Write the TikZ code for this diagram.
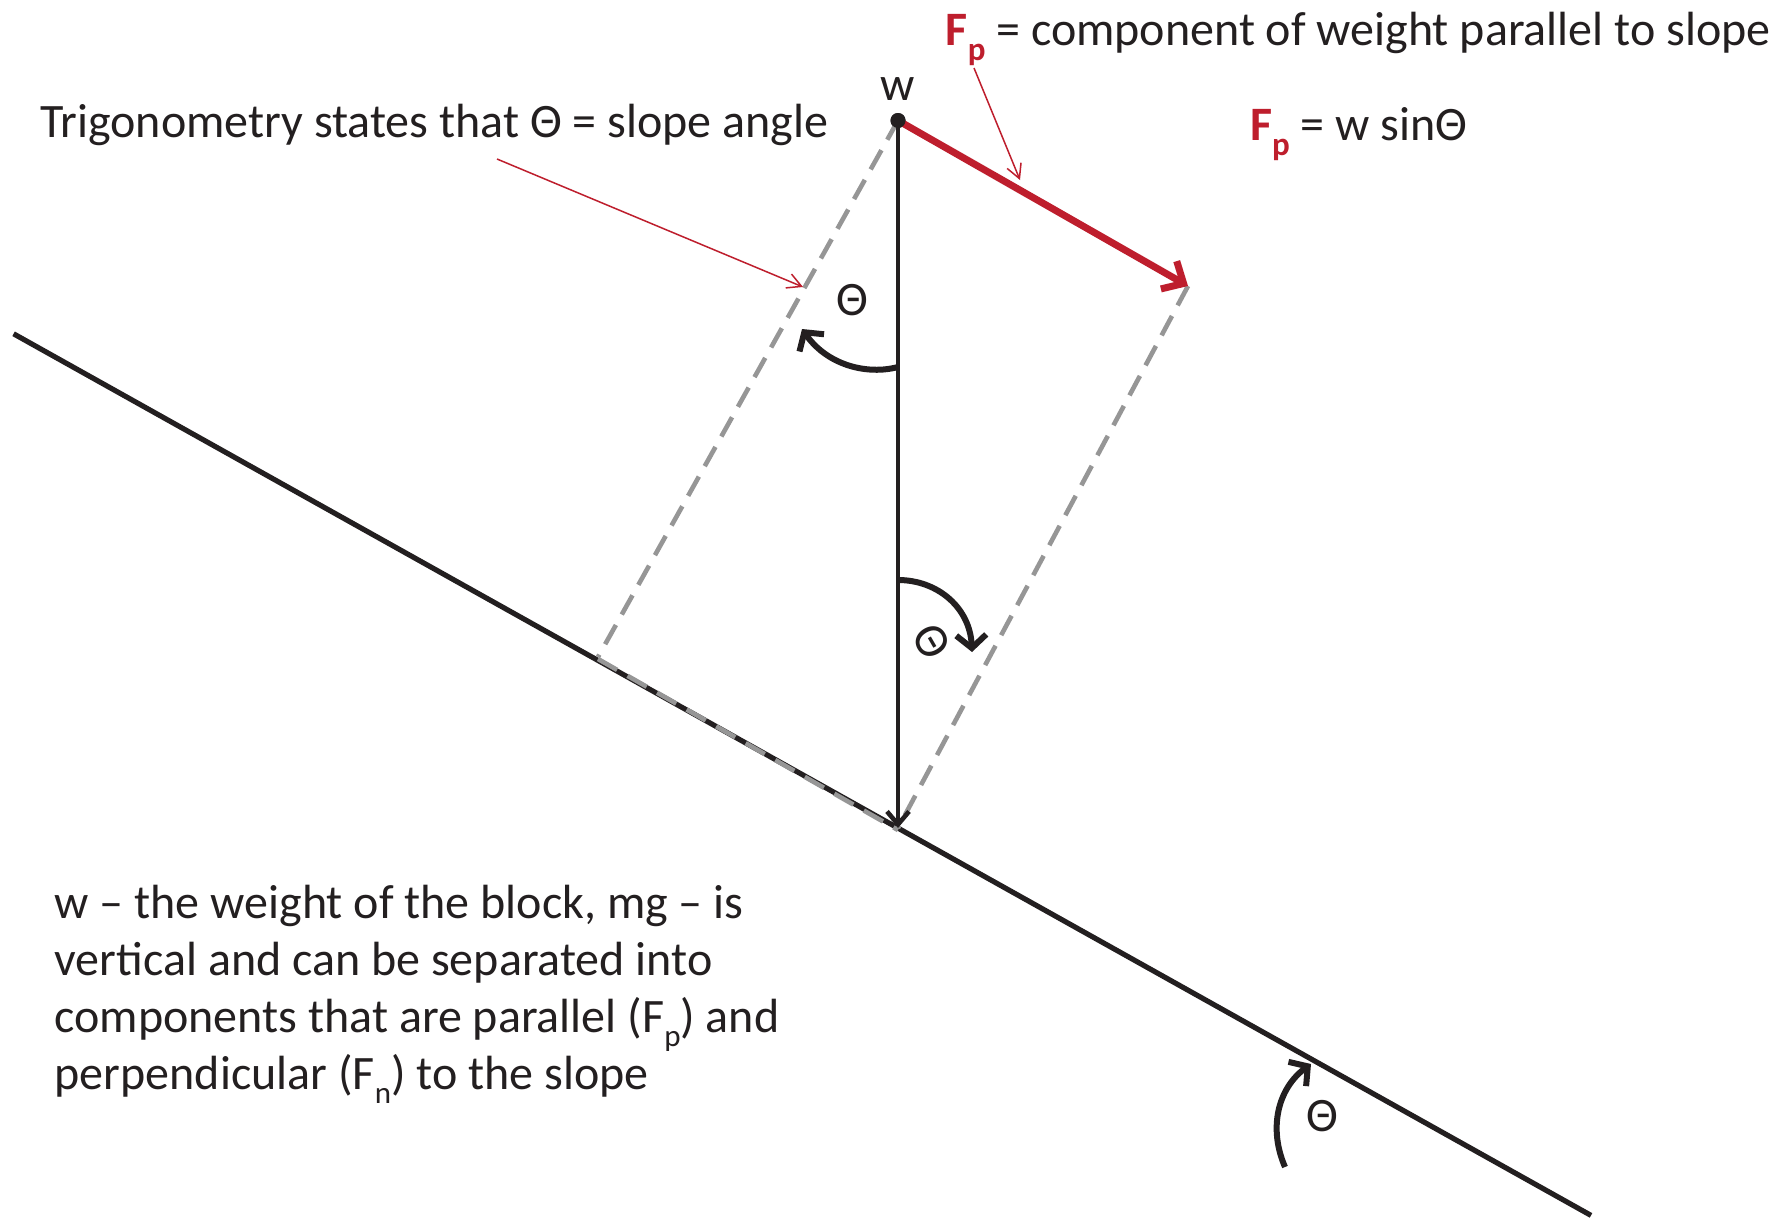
\documentclass[tikz,border=0pt]{standalone}
\usepackage{fontspec}
\setmainfont{Carlito}
\usetikzlibrary{arrows.meta}
\definecolor{fred}{RGB}{190,30,45}
\definecolor{sgray}{RGB}{150,150,150}
\definecolor{ink}{RGB}{35,31,32}
\newcommand{\Fbold}[1]{{\color{fred}\bfseries F\raisebox{-0.32em}{\fontsize{33}{33}\selectfont #1}}}
\newcommand{\Fsubn}[1]{F\raisebox{-0.3em}{\fontsize{31}{31}\selectfont #1}}
\tikzset{
  slopeline/.style={ink, line width=5.2pt},
  dashgray/.style={sgray, line width=4.6pt, dash pattern=on 22pt off 12pt},
  redvec/.style={fred, line width=7pt, -{Straight Barb[length=17pt,width=32pt]}},
  pointer/.style={fred, line width=1.5pt, -{Straight Barb[length=14pt,width=15pt]}},
  anglearc/.style={ink, line width=6pt, -{Straight Barb[length=13pt,width=30pt]}},
  wvec/.style={ink, line width=4.6pt, -{Straight Barb[length=13pt,width=22pt]}},
  lbl/.style={ink, inner sep=0pt},
}
\begin{document}
\begin{tikzpicture}[x=1pt,y=-1pt,font=\fontsize{48}{57}\selectfont]
\fill[white] (0,0) rectangle (1782,1218);
\useasboundingbox (0,0) rectangle (1782,1218);
% geometry
\coordinate (S1) at (13.6,333.8);
\coordinate (S2) at (1591,1215.4);
\coordinate (B) at (898,828);
\coordinate (R) at (1188,286);
\coordinate (L) at (598,657);
\node[circle, fill=ink, inner sep=0pt, minimum size=15pt] (T) at (898,120.5) {};
% slope
\draw[slopeline] (S1) -- (S2);
% dashed parallelogram
\draw[dashgray] (T.center) -- (L);
\draw[dashgray] ([yshift=-2pt]L) -- ([yshift=-2pt]B);
\draw[dashgray] (R) -- (B);
\draw[dashgray] (T.center) -- (R);
% weight vector
\draw[wvec] (T.center) -- (B);
% parallel component
\draw[redvec] (T.center) -- (R);
\fill[ink] (T.center) circle (7.5pt);
% angle arcs
\coordinate (a1s) at (898,367);
\coordinate (a1e) at (802,329);
\draw[anglearc] (a1s) .. controls (868,375) and (828,366) .. (a1e);
\coordinate (a2s) at (898,580);
\coordinate (a2e) at (972,652);
\draw[anglearc] (a2s) .. controls (938,580) and (970,608) .. (a2e);
\coordinate (a3s) at (1285,1167);
\coordinate (a3e) at (1311,1064);
\draw[anglearc] (a3s) .. controls (1268,1128) and (1278,1088) .. (a3e);
% labels
\node[lbl, anchor=base] (wl) at (898,100) {w};
\node[lbl, anchor=base] (th1) at (852,315) {Θ};
\node[lbl, rotate=-60] (th2) at (932,642) {Θ};
\node[lbl, anchor=base] (th3) at (1322,1131) {Θ};
\node[lbl, anchor=base west] (title) at (945.6,45.5) {\Fbold{p} = component of weight parallel to slope};
\node[lbl, anchor=base west] (eq) at (1250,140) {\Fbold{p} = w sinΘ};
\node[lbl, anchor=base west] (trig) at (40,137.5) {Trigonometry states that Θ = slope angle};
\node[lbl, anchor=base west, align=left] (desc) at (54.5,1089) {w -- the weight of the block, mg -- is\\vertical and can be separated into\\components that are parallel (\Fsubn{p}) and\\perpendicular (\Fsubn{n}) to the slope};
% pointers
\coordinate (p1s) at (497,159);
\coordinate (p1e) at (803,287);
\draw[pointer] (p1s) -- (p1e);
\coordinate (p2s) at (974,68);
\coordinate (p2e) at (1020,180);
\draw[pointer] (p2s) -- (p2e);
\end{tikzpicture}
\end{document}
